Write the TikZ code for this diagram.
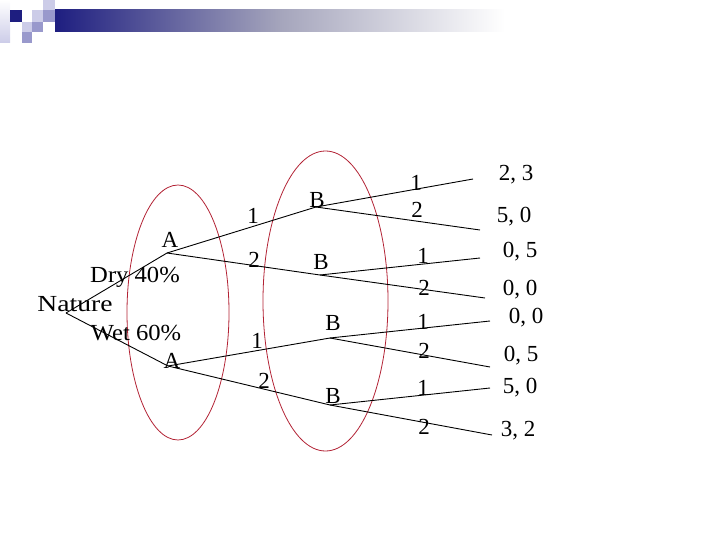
\documentclass[tikz,border=0pt]{standalone}
\usepackage{graphicx}
\usepackage{fontspec}
\setmainfont{Liberation Serif}
\definecolor{ellred}{RGB}{178,34,52}
\definecolor{navy}{RGB}{30,30,128}
\definecolor{lavL}{RGB}{204,204,232}
\definecolor{lavM}{RGB}{153,153,204}
\definecolor{midgrey}{RGB}{165,165,188}
\begin{document}
\begin{tikzpicture}[x=1pt,y=-1pt,
  txt/.style={inner sep=0pt,font=\fontsize{23}{26}\selectfont},
  edge/.style={line width=0.9pt,black},
  oval/.style={draw=ellred,line width=0.8pt}]
\useasboundingbox (0,0) rectangle (720,540);
% banner
\shade[top color=white,bottom color=lavL] (0,0) rectangle (10,43);
\fill[navy] (10,10) rectangle (22,22);
\fill[lavL] (43,0) rectangle (55,10);
\fill[lavL] (32,10) rectangle (43,22);
\fill[lavM] (43,10) rectangle (55,22);
\fill[lavL] (22,22) rectangle (32,32);
\fill[lavM] (32,22) rectangle (43,32);
\fill[lavM] (22,32) rectangle (32,43);
\shade[left color=navy,right color=white,middle color=midgrey] (55,10) rectangle (505,32);
% ellipses
\draw[oval] (178,312.5) ellipse [x radius=51,y radius=127.5];
\draw[oval] (325.5,301) ellipse [x radius=62.5,y radius=150];
% tree points
\coordinate (N) at (66,313);
\coordinate (A1) at (167,253);
\coordinate (A2) at (168,366);
\coordinate (B1) at (316,207);
\coordinate (B2) at (320,275);
\coordinate (B3) at (330,338);
\coordinate (B4) at (330,405);
\coordinate (T1) at (473,179);
\coordinate (T2) at (480,230);
\coordinate (T3) at (480,258);
\coordinate (T4) at (485,298);
\coordinate (T5) at (490,321);
\coordinate (T6) at (490,367);
\coordinate (T7) at (490,388);
\coordinate (T8) at (492,435);
% edges
\draw[edge] (N) -- (A1);
\draw[edge] (N) -- (A2);
\draw[edge] (A1) -- (B1);
\draw[edge] (A1) -- (B2);
\draw[edge] (A2) -- (B3);
\draw[edge] (A2) -- (B4);
\draw[edge] (B1) -- (T1);
\draw[edge] (B1) -- (T2);
\draw[edge] (B2) -- (T3);
\draw[edge] (B2) -- (T4);
\draw[edge] (B3) -- (T5);
\draw[edge] (B3) -- (T6);
\draw[edge] (B4) -- (T7);
\draw[edge] (B4) -- (T8);
% labels
\node[txt] (lN) at (75,304) {\scalebox{1.2}[1]{Nature}};
\node[txt] (lDry) at (135,277) {\scalebox{1.07}[1]{Dry 40\%}};
\node[txt] (lWet) at (136,333) {\scalebox{1.07}[1]{Wet 60\%}};
\node[txt] (lA1) at (170,240) {A};
\node[txt] (lA2) at (172,361) {A};
\node[txt] (a11) at (253,216) {1};
\node[txt] (a12) at (254,260) {2};
\node[txt] (a21) at (257,341) {1};
\node[txt] (a22) at (264,381) {2};
\node[txt] (lB1) at (317,200) {B};
\node[txt] (lB2) at (321,262) {B};
\node[txt] (lB3) at (333,323) {B};
\node[txt] (lB4) at (333,396) {B};
\node[txt] (b11) at (416,183) {1};
\node[txt] (b12) at (417,210) {2};
\node[txt] (b21) at (423,256) {1};
\node[txt] (b22) at (424,288) {2};
\node[txt] (b31) at (423,322) {1};
\node[txt] (b32) at (424,351) {2};
\node[txt] (b41) at (423,388) {1};
\node[txt] (b42) at (424,427) {2};
\node[txt] (p1) at (516,175) {2, 3};
\node[txt] (p2) at (514,217) {5, 0};
\node[txt] (p3) at (520,252) {0, 5};
\node[txt] (p4) at (520,290) {0, 0};
\node[txt] (p5) at (526,318) {0, 0};
\node[txt] (p6) at (521,356) {0, 5};
\node[txt] (p7) at (520,388) {5, 0};
\node[txt] (p8) at (518,431) {3, 2};
\end{tikzpicture}
\end{document}
